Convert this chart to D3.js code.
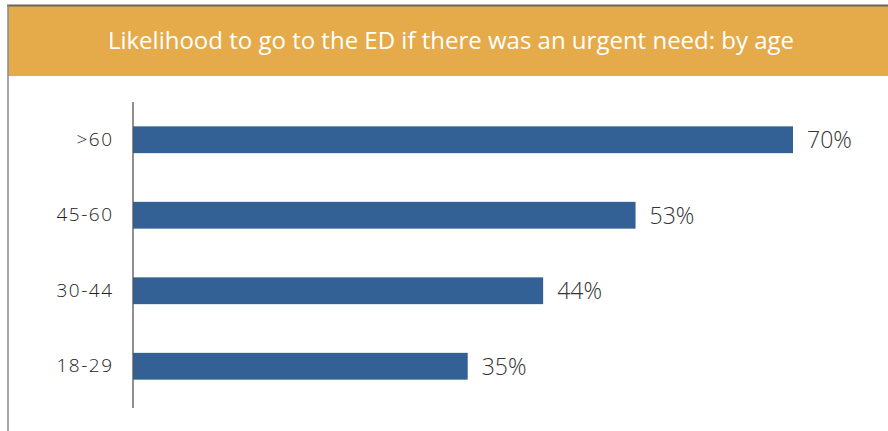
<!DOCTYPE html>
<html>
<head>
<meta charset="utf-8">
<script src="https://cdn.jsdelivr.net/npm/d3@7"></script>
<style>
  body { margin: 0; background: #fff; }
  svg { display: block; font-family: "Open Sans", "Lato", sans-serif; }
</style>
</head>
<body>
<div class="bar-chart"></div>
<script>
const FRAME_WIDTH = 888;
const FRAME_HEIGHT = 431;
const MARGINS = {left: 133, right: 95, top: 102, bottom: 27};

const TITLE = "Likelihood to go to the ED if there was an urgent need: by age";
const AGE_GROUPS = [">60", "45-60", "30-44", "18-29"];
const PERCENTS = [70, 53.3, 43.5, 35.5];
const PERCENT_LABELS = ["70%", "53%", "44%", "35%"];
const X_MAX = 70;

const FRAME = d3.select(".bar-chart")
    .append("svg")
    .attr("width", FRAME_WIDTH)
    .attr("height", FRAME_HEIGHT);

// header band + border
FRAME.append("rect")
    .attr("x", 8).attr("y", 6)
    .attr("width", FRAME_WIDTH - 8).attr("height", 70)
    .attr("fill", "#e5ab4b");

FRAME.append("line")
    .attr("x1", 7).attr("x2", FRAME_WIDTH)
    .attr("y1", 5.5).attr("y2", 5.5)
    .attr("stroke", "#6b6460").attr("stroke-width", 2);

FRAME.append("line")
    .attr("x1", 8).attr("x2", 8)
    .attr("y1", 5).attr("y2", FRAME_HEIGHT)
    .attr("stroke", "#8a8a8a").attr("stroke-width", 1.5);

FRAME.append("text")
    .attr("x", 451).attr("y", 48.5)
    .attr("text-anchor", "middle")
    .attr("fill", "#fff")
    .attr("font-size", "24px")
    .text(TITLE);

const data = AGE_GROUPS.map((g, i) => ({group: g, value: PERCENTS[i], label: PERCENT_LABELS[i]}));

const xScale = d3.scaleLinear()
    .domain([0, X_MAX])
    .range([MARGINS.left, FRAME_WIDTH - MARGINS.right]);

const yScale = d3.scaleBand()
    .domain(AGE_GROUPS)
    .range([MARGINS.top, FRAME_HEIGHT - MARGINS.bottom])
    .paddingInner(0.645)
    .paddingOuter(0.3225);

FRAME.selectAll(".bar")
    .data(data)
    .enter().append("rect")
    .attr("class", "bar")
    .attr("x", xScale(0))
    .attr("y", (d) => yScale(d.group))
    .attr("width", (d) => xScale(d.value) - xScale(0))
    .attr("height", yScale.bandwidth())
    .attr("fill", "#336195");

// value labels
FRAME.selectAll(".val")
    .data(data)
    .enter().append("text")
    .attr("class", "val")
    .attr("x", (d) => xScale(d.value) + 14)
    .attr("y", (d) => yScale(d.group) + yScale.bandwidth() / 2)
    .attr("dy", "0.36em")
    .attr("fill", "#333")
    .attr("font-size", "23px")
    .attr("font-weight", 300)
    .text((d) => d.label);

// y axis
const yAxis = FRAME.append("g")
    .attr("transform", "translate(" + MARGINS.left + ",0)")
    .call(d3.axisLeft(yScale).tickSize(0).tickPadding(19.5));

yAxis.select(".domain").remove();

yAxis.append("line")
    .attr("x1", 0).attr("x2", 0)
    .attr("y1", MARGINS.top).attr("y2", 408)
    .attr("stroke", "#555")
    .attr("stroke-width", 1.3);

yAxis.selectAll("text")
    .attr("font-family", "'Open Sans', sans-serif")
    .attr("font-size", "19px")
    .attr("font-weight", 300)
    .attr("letter-spacing", "1.5px")
    .attr("fill", "#222");
</script>
</body>
</html>
